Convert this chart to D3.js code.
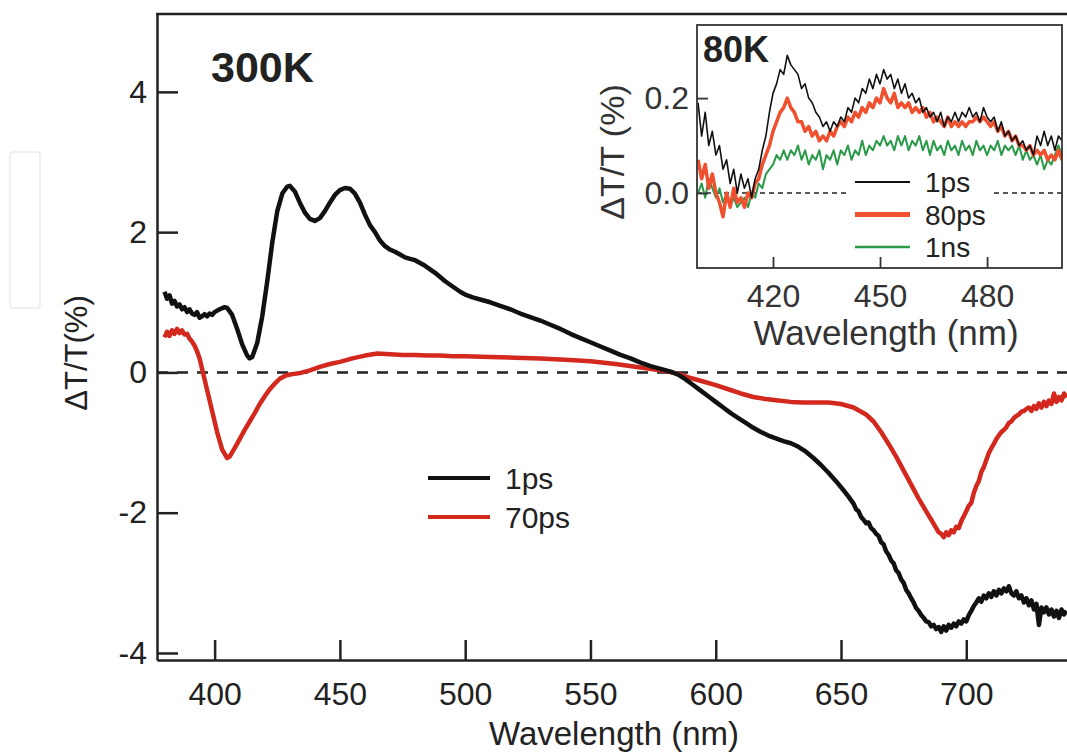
<!DOCTYPE html>
<html>
<head>
<meta charset="utf-8">
<script src="https://cdn.jsdelivr.net/npm/d3@7/dist/d3.min.js"></script>
<style>
  body { margin: 0; background: #fff; }
  svg { display: block; font-family: "Liberation Sans", Arial, sans-serif; }
</style>
</head>
<body>
<svg id="chart" width="1067" height="755"></svg>
<script>
// main panel, 300K : [wavelength nm, dT/T %]
var spec1ps = [
  [380,1.15],[381,1.05],[382,1.1],[383,0.98],[384,1.02],[385,0.94],[386,0.97],[387,0.9],[388,0.93],[389,0.86],
  [390,0.9],[391,0.84],[392,0.82],[393,0.86],[394,0.78],[395,0.8],[396,0.83],[397,0.8],[398,0.84],[399,0.82],
  [400,0.86],[402,0.9],[404,0.93],[405,0.92],[407,0.82],[409,0.62],[411,0.4],[413,0.24],[414,0.2],[415,0.22],
  [417,0.42],[419,0.8],[421,1.3],[423,1.85],[425,2.3],[427,2.55],[429,2.65],[430,2.66],[432,2.58],[434,2.42],
  [436,2.28],[438,2.19],[440,2.16],[442,2.2],[444,2.3],[446,2.42],[448,2.53],[450,2.6],[452,2.63],[454,2.62],
  [456,2.55],[458,2.42],[460,2.25],[462,2.1],[464,2.0],[466,1.88],[468,1.8],[470,1.75],[472,1.72],[474,1.68],
  [476,1.64],[478,1.62],[480,1.6],[482,1.56],[484,1.52],[486,1.47],[488,1.42],[490,1.36],[492,1.3],[494,1.25],
  [496,1.2],[498,1.15],[500,1.11],[503,1.07],[506,1.04],[510,1.0],[514,0.95],[518,0.9],[522,0.84],[526,0.79],
  [530,0.74],[534,0.68],[538,0.62],[542,0.55],[546,0.49],[550,0.43],[554,0.37],[558,0.31],[562,0.25],[566,0.2],
  [570,0.14],[574,0.09],[578,0.05],[582,0.01],[585,-0.03],[588,-0.1],[591,-0.18],[594,-0.26],[597,-0.34],[600,-0.42],
  [603,-0.5],[606,-0.58],[609,-0.65],[612,-0.72],[615,-0.79],[618,-0.85],[621,-0.9],[624,-0.94],[627,-0.98],[630,-1.01],
  [633,-1.06],[636,-1.13],[639,-1.22],[642,-1.32],[645,-1.43],[648,-1.55],[651,-1.68],[653,-1.77],[655,-1.87],[656,-1.95],
  [657,-1.98],[658,-2.06],[659,-2.1],[660,-2.15],[661,-2.14],[662,-2.22],[663,-2.25],[664,-2.3],[665,-2.33],[666,-2.42],
  [667,-2.45],[668,-2.55],[669,-2.6],[670,-2.68],[671,-2.72],[672,-2.82],[673,-2.86],[674,-2.95],[675,-3.0],[676,-3.1],
  [677,-3.15],[678,-3.22],[679,-3.28],[680,-3.36],[681,-3.4],[682,-3.46],[683,-3.5],[684,-3.55],[685,-3.56],[686,-3.62],
  [687,-3.6],[688,-3.66],[689,-3.63],[690,-3.7],[691,-3.62],[692,-3.68],[693,-3.6],[694,-3.64],[695,-3.58],[696,-3.62],
  [697,-3.55],[698,-3.58],[699,-3.52],[700,-3.55],[701,-3.46],[702,-3.4],[703,-3.33],[704,-3.28],[705,-3.22],[706,-3.27],
  [707,-3.18],[708,-3.22],[709,-3.15],[710,-3.2],[711,-3.12],[712,-3.18],[713,-3.1],[714,-3.15],[715,-3.08],[716,-3.12],
  [717,-3.05],[718,-3.15],[719,-3.18],[720,-3.12],[721,-3.22],[722,-3.18],[723,-3.28],[724,-3.22],[725,-3.32],[726,-3.25],
  [727,-3.38],[728,-3.3],[729,-3.6],[730,-3.35],[731,-3.42],[732,-3.35],[733,-3.45],[734,-3.38],[735,-3.48],[736,-3.4],
  [737,-3.5],[738,-3.38],[739,-3.45],[740,-3.4]
];

var spec70ps = [
  [380,0.5],[381,0.58],[382,0.52],[383,0.6],[384,0.55],[385,0.62],[386,0.56],[387,0.6],[388,0.54],[389,0.55],
  [390,0.48],[391,0.44],[392,0.38],[393,0.3],[394,0.2],[395,0.05],[397,-0.25],[399,-0.55],[401,-0.85],[403,-1.1],
  [405,-1.22],[406,-1.2],[408,-1.08],[410,-0.95],[412,-0.82],[414,-0.7],[416,-0.58],[418,-0.45],[420,-0.34],[422,-0.24],
  [424,-0.16],[426,-0.09],[428,-0.05],[430,-0.03],[434,-0.01],[438,0.03],[442,0.08],[446,0.12],[450,0.15],[455,0.2],
  [460,0.24],[465,0.27],[470,0.26],[475,0.25],[480,0.25],[485,0.24],[490,0.24],[495,0.23],[500,0.23],[510,0.22],
  [520,0.21],[530,0.2],[540,0.18],[550,0.16],[560,0.12],[570,0.07],[580,0.02],[585,-0.02],[590,-0.08],[595,-0.13],
  [600,-0.18],[605,-0.24],[610,-0.3],[615,-0.35],[620,-0.38],[625,-0.4],[630,-0.42],[635,-0.43],[640,-0.43],[645,-0.43],
  [650,-0.45],[655,-0.5],[660,-0.6],[663,-0.7],[666,-0.85],[669,-1.02],[672,-1.2],[675,-1.4],[678,-1.6],[681,-1.8],
  [684,-1.98],[686,-2.1],[688,-2.22],[689,-2.28],[690,-2.3],[691,-2.35],[692,-2.28],[693,-2.32],[694,-2.25],[695,-2.28],
  [696,-2.2],[697,-2.22],[698,-2.12],[699,-2.05],[700,-1.98],[701,-1.9],[702,-1.86],[703,-1.72],[704,-1.62],[705,-1.55],
  [706,-1.42],[707,-1.35],[708,-1.25],[709,-1.15],[710,-1.08],[711,-1.02],[712,-0.95],[713,-0.9],[714,-0.85],[715,-0.82],
  [716,-0.78],[717,-0.72],[718,-0.7],[719,-0.65],[720,-0.62],[721,-0.6],[722,-0.56],[723,-0.55],[724,-0.52],[725,-0.5],
  [726,-0.55],[727,-0.48],[728,-0.52],[729,-0.44],[730,-0.5],[731,-0.42],[732,-0.48],[733,-0.4],[734,-0.45],[735,-0.3],
  [736,-0.42],[737,-0.35],[738,-0.4],[739,-0.3],[740,-0.36]
];

// inset, 80K
var insetWl = [
  399,400,401,402,403,404,405,406,407,408,409,410,411,412,413,414,415,416,417,418,
  419,420,421,422,423,424,425,426,427,428,429,430,431,432,433,434,435,436,437,438,
  439,440,441,442,443,444,445,446,447,448,449,450,451,452,453,454,455,456,457,458,
  459,460,461,462,463,464,465,466,467,468,469,470,471,472,473,474,475,476,477,478,
  479,480,481,482,483,484,485,486,487,488,489,490,491,492,493,494,495,496,497,498,
  499,500,501
];
var inset1ps = [
  0.19,0.12,0.17,0.1,0.13,0.08,0.1,0.05,0.07,0.02,0.05,0.0,0.04,0.01,0.03,-0.01,0.03,0.05,0.09,0.12,
  0.17,0.21,0.23,0.26,0.25,0.29,0.27,0.26,0.25,0.22,0.23,0.2,0.19,0.17,0.16,0.14,0.15,0.13,0.15,0.14,
  0.16,0.15,0.18,0.17,0.2,0.19,0.22,0.21,0.24,0.22,0.25,0.23,0.26,0.24,0.25,0.22,0.24,0.21,0.23,0.2,
  0.21,0.19,0.2,0.17,0.18,0.16,0.17,0.15,0.17,0.14,0.16,0.15,0.17,0.15,0.17,0.16,0.18,0.16,0.17,0.15,
  0.18,0.16,0.15,0.16,0.13,0.15,0.12,0.13,0.11,0.12,0.1,0.11,0.09,0.1,0.08,0.12,0.1,0.13,0.1,0.12,
  0.09,0.12,0.11
];
var inset80ps = [
  0.07,0.03,0.06,0.01,0.04,0.0,-0.02,-0.05,0.0,-0.03,0.01,-0.02,-0.01,-0.03,0.0,-0.01,0.02,0.03,0.06,0.08,
  0.1,0.13,0.15,0.17,0.18,0.2,0.18,0.17,0.15,0.15,0.13,0.14,0.12,0.13,0.11,0.12,0.11,0.13,0.12,0.14,
  0.15,0.14,0.16,0.15,0.17,0.16,0.18,0.17,0.19,0.18,0.2,0.19,0.22,0.2,0.19,0.21,0.18,0.19,0.18,0.19,
  0.17,0.18,0.17,0.18,0.16,0.17,0.15,0.16,0.15,0.14,0.16,0.14,0.15,0.14,0.15,0.14,0.15,0.15,0.16,0.15,
  0.16,0.15,0.14,0.15,0.13,0.14,0.12,0.13,0.11,0.12,0.1,0.1,0.09,0.1,0.08,0.09,0.08,0.09,0.07,0.08,
  0.07,0.09,0.07
];
var inset1ns = [
  0.0,0.02,-0.01,0.03,0.01,-0.01,0.01,-0.02,0.0,-0.03,-0.01,-0.03,-0.02,-0.01,-0.03,0.0,-0.01,0.02,0.01,0.04,
  0.05,0.06,0.08,0.07,0.09,0.07,0.09,0.08,0.1,0.07,0.09,0.06,0.08,0.07,0.09,0.05,0.08,0.07,0.09,0.06,
  0.09,0.08,0.1,0.07,0.09,0.08,0.11,0.08,0.1,0.09,0.11,0.1,0.12,0.1,0.11,0.09,0.12,0.1,0.12,0.09,
  0.11,0.1,0.12,0.09,0.11,0.08,0.11,0.09,0.1,0.08,0.11,0.09,0.1,0.08,0.11,0.09,0.1,0.08,0.11,0.09,
  0.1,0.08,0.1,0.09,0.11,0.08,0.1,0.09,0.1,0.08,0.1,0.07,0.09,0.07,0.08,0.06,0.08,0.05,0.07,0.06,
  0.08,0.1,0.08
];

var mainXTicks = [400, 450, 500, 550, 600, 650, 700];
var mainYTicks = [-4, -2, 0, 2, 4];
var insetXTicks = [420, 450, 480];
var insetYTicks = [0.0, 0.2];
var mainLegend = [{label: "1ps", color: "#111"}, {label: "70ps", color: "#d2281d"}];
var insetLegend = [{label: "1ps", color: "#111", w: 2}, {label: "80ps", color: "#f0502e", w: 5}, {label: "1ns", color: "#2a9a48", w: 2.5}];

var svg = d3.select("#chart");

// faint box left over in the scan
svg.append("rect").attr("x", 10).attr("y", 152).attr("width", 30).attr("height", 156)
  .attr("rx", 3).style("fill", "none").style("stroke", "#ececec").style("stroke-width", 1.5);

// ---- main panel ----
var x = d3.scaleLinear().domain([377, 740.2]).range([157, 1067]);
var y = d3.scaleLinear().domain([-4.1, 5.11]).range([660, 14]);

svg.append("clipPath").attr("id", "mainClip")
  .append("rect").attr("x", 157).attr("y", 14).attr("width", 910).attr("height", 646);

svg.append("line")
  .attr("x1", 157).attr("x2", 1067).attr("y1", y(0)).attr("y2", y(0))
  .style("stroke", "#222").style("stroke-width", 2.5).style("stroke-dasharray", "11,9");

var line = d3.line().x(function (d) { return x(d[0]); }).y(function (d) { return y(d[1]); });

svg.append("path").datum(spec70ps).attr("d", line).attr("clip-path", "url(#mainClip)")
  .style("fill", "none").style("stroke", "#d2281d").style("stroke-width", 4.5).style("stroke-linejoin", "round");
svg.append("path").datum(spec1ps).attr("d", line).attr("clip-path", "url(#mainClip)")
  .style("fill", "none").style("stroke", "#111").style("stroke-width", 4.5).style("stroke-linejoin", "round");

var plain = function (d) { return String(d); };
var xAxis = svg.append("g").attr("transform", "translate(0,660)")
  .call(d3.axisBottom(x).tickValues(mainXTicks).tickFormat(plain).tickSizeInner(-20).tickSizeOuter(0).tickPadding(22));
var yAxis = svg.append("g").attr("transform", "translate(157,0)")
  .call(d3.axisLeft(y).tickValues(mainYTicks).tickFormat(plain).tickSizeInner(-21).tickSizeOuter(0).tickPadding(10));

[xAxis, yAxis].forEach(function (g) {
  g.select(".domain").style("stroke", "#222").style("stroke-width", 2.5);
  g.selectAll(".tick line").style("stroke", "#222").style("stroke-width", 2.5);
  g.selectAll(".tick text").style("font-size", "32px").style("fill", "#222")
    .style("font-family", "'Liberation Sans', Arial, sans-serif");
});

// top frame
svg.append("line").attr("x1", 156).attr("x2", 1067).attr("y1", 14).attr("y2", 14)
  .style("stroke", "#222").style("stroke-width", 2.5);

svg.append("text").attr("x", 614).attr("y", 745).attr("text-anchor", "middle")
  .style("font-size", "33px").style("fill", "#222").text("Wavelength (nm)");
svg.append("text").attr("transform", "translate(87,353) rotate(-90)").attr("text-anchor", "middle")
  .style("font-size", "31px").style("fill", "#222").text("ΔT/T(%)");
svg.append("text").attr("x", 211).attr("y", 82)
  .style("font-size", "43px").style("font-weight", "bold").style("fill", "#222").text("300K");

var leg = svg.append("g").selectAll("g").data(mainLegend).enter().append("g")
  .attr("transform", function (d, i) { return "translate(428," + (478 + i * 39) + ")"; });
leg.append("line").attr("x1", 0).attr("x2", 62)
  .style("stroke", function (d) { return d.color; }).style("stroke-width", 4);
leg.append("text").attr("x", 77).attr("y", 11).style("font-size", "30px").style("fill", "#222")
  .text(function (d) { return d.label; });

// ---- inset ----
var ix = d3.scaleLinear().domain([398.7, 501]).range([697, 1062]);
var iy = d3.scaleLinear().domain([-0.158, 0.354]).range([268, 25]);

svg.append("rect").attr("x", 697).attr("y", 25).attr("width", 365).attr("height", 243)
  .style("fill", "#fff");

svg.append("clipPath").attr("id", "insetClip")
  .append("rect").attr("x", 697).attr("y", 25).attr("width", 365).attr("height", 243);

svg.append("line").attr("x1", 697).attr("x2", 1062).attr("y1", iy(0)).attr("y2", iy(0))
  .style("stroke", "#222").style("stroke-width", 1.5).style("stroke-dasharray", "5,4");

// legend background hides the dashed line
svg.append("rect").attr("x", 850).attr("y", 172).attr("width", 142).attr("height", 92).style("fill", "#fff");

var iline = d3.line().x(function (d, i) { return ix(insetWl[i]); }).y(function (d) { return iy(d); });
var insetSeries = [
  {vals: inset1ns, color: "#2a9a48", w: 2},
  {vals: inset80ps, color: "#f0502e", w: 3.5},
  {vals: inset1ps, color: "#111", w: 1.6}
];
insetSeries.forEach(function (s) {
  svg.append("path").datum(s.vals).attr("d", iline).attr("clip-path", "url(#insetClip)")
    .style("fill", "none").style("stroke", s.color).style("stroke-width", s.w).style("stroke-linejoin", "round");
});

svg.append("rect").attr("x", 697).attr("y", 25).attr("width", 365).attr("height", 243)
  .style("fill", "none").style("stroke", "#333").style("stroke-width", 1.8);

var ixAxis = svg.append("g").attr("transform", "translate(0,268)")
  .call(d3.axisBottom(ix).tickValues(insetXTicks).tickSizeInner(-11).tickSizeOuter(0).tickPadding(16));
var iyAxis = svg.append("g").attr("transform", "translate(697,0)")
  .call(d3.axisLeft(iy).tickValues(insetYTicks).tickFormat(d3.format(".1f")).tickSizeInner(-11).tickSizeOuter(0).tickPadding(8));
[ixAxis, iyAxis].forEach(function (g) {
  g.select(".domain").remove();
  g.selectAll(".tick line").style("stroke", "#333").style("stroke-width", 1.8);
  g.selectAll(".tick text").style("font-size", "32px").style("fill", "#333")
    .style("font-family", "'Liberation Sans', Arial, sans-serif");
});

svg.append("text").attr("x", 886).attr("y", 345).attr("text-anchor", "middle")
  .style("font-size", "35px").style("fill", "#333").text("Wavelength (nm)");
svg.append("text").attr("transform", "translate(624,152) rotate(-90)").attr("text-anchor", "middle")
  .style("font-size", "34px").style("fill", "#333").text("ΔT/T (%)");
svg.append("text").attr("x", 703).attr("y", 62)
  .style("font-size", "36px").style("font-weight", "bold").style("fill", "#222").text("80K");

var ileg = svg.append("g").selectAll("g").data(insetLegend).enter().append("g")
  .attr("transform", function (d, i) { return "translate(855," + (182 + i * 32.5) + ")"; });
ileg.append("line").attr("x1", 0).attr("x2", 55)
  .style("stroke", function (d) { return d.color; }).style("stroke-width", function (d) { return d.w; });
ileg.append("text").attr("x", 70).attr("y", 10).style("font-size", "28px").style("fill", "#222")
  .text(function (d) { return d.label; });
</script>
</body>
</html>
